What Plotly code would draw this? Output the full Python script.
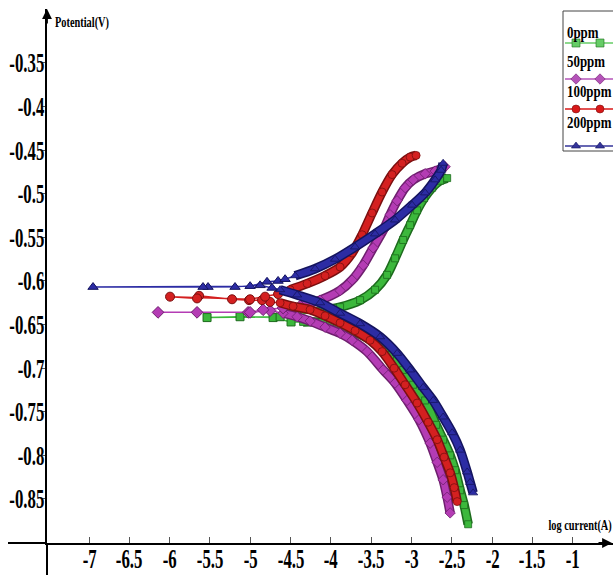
import json
import plotly.graph_objects as go

# Tafel polarisation curves: log current (A) vs potential (V) for each inhibitor dose
series_names = ["0ppm", "50ppm", "100ppm", "200ppm"]

# ---- 0 ppm ----
cath_0_logi = [-2.298, -2.347, -2.397, -2.459, -2.521, -2.608, -2.695, -2.831, -2.980,
               -3.104, -3.266, -3.452, -3.638, -3.824, -4.010, -4.196, -4.345]
cath_0_e = [-0.879, -0.857, -0.840, -0.817, -0.800, -0.782, -0.765, -0.737, -0.719,
            -0.702, -0.685, -0.671, -0.661, -0.654, -0.649, -0.647, -0.647]
ecorr_0_logi = [-4.494, -4.717, -5.127, -5.536, -4.630, -4.419]
ecorr_0_e = [-0.647, -0.642, -0.641, -0.642, -0.641, -0.639]
anod_0_logi = [-4.134, -3.886, -3.638, -3.452, -3.303, -3.204, -3.104, -3.017, -2.931,
               -2.844, -2.744, -2.645, -2.558]
anod_0_e = [-0.634, -0.630, -0.622, -0.610, -0.593, -0.574, -0.553, -0.536, -0.519,
            -0.505, -0.493, -0.485, -0.482]

# ---- 50 ppm ----
cath_50_logi = [-2.521, -2.558, -2.608, -2.682, -2.769, -2.906, -3.055, -3.204, -3.352,
                -3.551, -3.737, -3.886, -4.072, -4.258, -4.419, -4.593]
cath_50_e = [-0.866, -0.848, -0.828, -0.808, -0.786, -0.759, -0.737, -0.717, -0.702,
             -0.681, -0.668, -0.660, -0.653, -0.646, -0.641, -0.637]
ecorr_50_logi = [-4.754, -5.027, -5.660, -6.144, -5.002, -4.841, -4.593]
ecorr_50_e = [-0.634, -0.636, -0.636, -0.636, -0.636, -0.633, -0.631]
anod_50_logi = [-4.382, -4.134, -3.886, -3.737, -3.600, -3.476, -3.352, -3.266, -3.179,
                -3.079, -2.980, -2.831, -2.707, -2.583]
anod_50_e = [-0.628, -0.622, -0.611, -0.599, -0.582, -0.562, -0.542, -0.524, -0.508,
             -0.493, -0.484, -0.477, -0.474, -0.469]

# ---- 100 ppm ----
cath_100_logi = [-2.434, -2.471, -2.521, -2.596, -2.682, -2.794, -2.931, -3.079, -3.216,
                 -3.365, -3.514, -3.700, -3.886, -4.072, -4.258, -4.469, -4.630]
cath_100_e = [-0.853, -0.837, -0.820, -0.802, -0.782, -0.762, -0.740, -0.719, -0.700,
              -0.681, -0.668, -0.657, -0.648, -0.640, -0.633, -0.629, -0.625]
ecorr_100_logi = [-4.754, -4.854, -5.015, -5.226, -5.635, -5.660, -5.995, -5.002, -4.816, -4.655]
ecorr_100_e = [-0.624, -0.622, -0.622, -0.621, -0.617, -0.620, -0.618, -0.621, -0.618, -0.615]
anod_100_logi = [-4.506, -4.295, -4.072, -3.886, -3.737, -3.613, -3.489, -3.365, -3.241,
                 -3.117, -3.017, -2.943]
anod_100_e = [-0.610, -0.603, -0.594, -0.584, -0.568, -0.547, -0.522, -0.498, -0.478,
              -0.465, -0.458, -0.456]

# ---- 200 ppm ----
cath_200_logi = [-2.236, -2.273, -2.310, -2.397, -2.496, -2.608, -2.732, -2.856, -3.017,
                 -3.179, -3.390, -3.638, -3.886, -4.134, -4.419, -4.630]
cath_200_e = [-0.843, -0.831, -0.819, -0.794, -0.774, -0.756, -0.737, -0.722, -0.702,
              -0.683, -0.664, -0.649, -0.637, -0.625, -0.616, -0.610]
ecorr_200_logi = [-4.730, -4.878, -5.189, -5.524, -5.586, -6.950, -5.002, -4.792, -4.655, -4.568]
ecorr_200_e = [-0.608, -0.605, -0.607, -0.607, -0.607, -0.607, -0.606, -0.601, -0.600, -0.598]
anod_200_logi = [-4.444, -4.196, -3.948, -3.700, -3.452, -3.204, -2.993, -2.831, -2.707,
                 -2.633, -2.608]
anod_200_e = [-0.594, -0.586, -0.575, -0.561, -0.546, -0.530, -0.513, -0.499, -0.484,
              -0.473, -0.465]

x_tick_vals = [-7, -6.5, -6, -5.5, -5, -4.5, -4, -3.5, -3, -2.5, -2, -1.5, -1]
x_tick_text = ["-7", "-6.5", "-6", "-5.5", "-5", "-4.5", "-4", "-3.5", "-3", "-2.5", "-2", "-1.5", "-1"]
y_tick_vals = [-0.35, -0.4, -0.45, -0.5, -0.55, -0.6, -0.65, -0.7, -0.75, -0.8, -0.85]
y_tick_text = ["-0.35", "-0.4", "-0.45", "-0.5", "-0.55", "-0.6", "-0.65", "-0.7", "-0.75", "-0.8", "-0.85"]

curves = [
    (cath_0_logi, cath_0_e, ecorr_0_logi, ecorr_0_e, anod_0_logi, anod_0_e),
    (cath_50_logi, cath_50_e, ecorr_50_logi, ecorr_50_e, anod_50_logi, anod_50_e),
    (cath_100_logi, cath_100_e, ecorr_100_logi, ecorr_100_e, anod_100_logi, anod_100_e),
    (cath_200_logi, cath_200_e, ecorr_200_logi, ecorr_200_e, anod_200_logi, anod_200_e),
]

# styling
band_colors = ["#3cb83c", "#b43cb4", "#d42020", "#2c2ca4"]
edge_colors = ["#1d6b1d", "#6e1f6e", "#7a0f0f", "#14145e"]
key_colors = ["#66cc66", "#b453b8", "#d81818", "#34349a"]
symbols = ["square", "diamond", "circle", "triangle-up"]
sizes = [8, 9, 9, 9]

W, H = 613, 575
M_L, M_R, M_T, M_B = 47, 0, 9, 32
X_RANGE = [-7.521, -0.5012]
Y_RANGE = [-0.9005, -0.2881]
SERIF = "Liberation Serif"
TICK_SQUEEZE = 0.6
plot_w = W - M_L - M_R
plot_h = H - M_T - M_B


def px_to_paper_x(px):
    return (px - M_L) / plot_w


def py_to_paper_y(py):
    return (H - M_B - py) / plot_h


fig = go.Figure()

for i, (cx, cy, ex, ey, ax_, ay_) in enumerate(curves):
    # thin connector through the low-current points around Ecorr
    fig.add_trace(go.Scatter(
        x=[cx[-1]] + ex + [ax_[0]], y=[cy[-1]] + ey + [ay_[0]],
        mode="lines", line=dict(color=band_colors[i], width=1.5),
        hoverinfo="skip", showlegend=False))
    # dark rim under each branch, then the coloured band
    for bx, by in ((cx, cy), (ax_, ay_)):
        fig.add_trace(go.Scatter(
            x=bx, y=by, mode="lines",
            line=dict(color=edge_colors[i], width=9.5, shape="spline", smoothing=0.8),
            hoverinfo="skip", showlegend=False))
        fig.add_trace(go.Scatter(
            x=bx, y=by, mode="lines+markers",
            line=dict(color=band_colors[i], width=6.5, shape="spline", smoothing=0.8),
            marker=dict(symbol=symbols[i], size=sizes[i] - 1, color=band_colors[i],
                        line=dict(color=edge_colors[i], width=0.8)),
            name=series_names[i], showlegend=False))
    # sampled points near the corrosion potential
    fig.add_trace(go.Scatter(
        x=ex, y=ey, mode="markers",
        marker=dict(symbol=symbols[i], size=sizes[i], color=band_colors[i],
                    line=dict(color=edge_colors[i], width=1)),
        name=series_names[i], showlegend=False))

# key panel drawn on a pixel-unit overlay axis
key_line_y = [43, 79, 109, 146]
key_text_y = [32, 61, 91, 122]
for i, name in enumerate(series_names):
    fig.add_trace(go.Scatter(
        x=[565, 616], y=[key_line_y[i]] * 2, xaxis="x2", yaxis="y2",
        mode="lines", line=dict(color=key_colors[i], width=1.5),
        hoverinfo="skip", showlegend=False))
    fig.add_trace(go.Scatter(
        x=[576, 600], y=[key_line_y[i]] * 2, xaxis="x2", yaxis="y2",
        mode="markers",
        marker=dict(symbol=symbols[i], size=8, color=key_colors[i],
                    line=dict(color=edge_colors[i], width=0.6)),
        hoverinfo="skip", showlegend=False))

annotations = []
squeeze = []
tick_font = dict(family=SERIF, size=28, color="black", weight="bold")

# tick labels (paper-referenced on the off-plot side so they stay visible)
for v, t in zip(x_tick_vals, x_tick_text):
    annotations.append(dict(
        x=v, y=py_to_paper_y(558), xref="x", yref="paper", text=t, showarrow=False,
        xanchor="center", yanchor="middle", align="center", font=tick_font))
    squeeze.append(TICK_SQUEEZE)
for v, t in zip(y_tick_vals, y_tick_text):
    annotations.append(dict(
        x=px_to_paper_x(46), y=v, xref="paper", yref="y", text=t, showarrow=False,
        xanchor="right", yanchor="middle", align="right", font=tick_font))
    squeeze.append(TICK_SQUEEZE)

for i, name in enumerate(series_names):
    annotations.append(dict(
        x=565, y=key_text_y[i], xref="x2", yref="y2", text=name, showarrow=False,
        xanchor="left", yanchor="middle", align="left",
        font=dict(family=SERIF, size=17, color="black", weight="bold")))
    squeeze.append(0.76)
annotations.append(dict(
    x=53, y=23, xref="x2", yref="y2", text="Potential(V)", showarrow=False,
    xanchor="left", yanchor="middle", align="left",
    font=dict(family=SERIF, size=14, color="black", weight="bold")))
squeeze.append(0.74)
annotations.append(dict(
    x=px_to_paper_x(614), y=py_to_paper_y(526), xref="paper", yref="paper",
    text="log current(A)", showarrow=False,
    xanchor="right", yanchor="middle", align="right",
    font=dict(family=SERIF, size=14, color="black", weight="bold")))
squeeze.append(0.74)
# axis arrowheads
annotations.append(dict(x=0, y=1, xref="paper", yref="paper", ax=0, ay=16, text="",
                        showarrow=True, arrowhead=2, arrowsize=1.1, arrowwidth=1.8,
                        arrowcolor="black"))
squeeze.append(0)
annotations.append(dict(x=1, y=0, xref="paper", yref="paper", ax=-16, ay=0, text="",
                        showarrow=True, arrowhead=2, arrowsize=1.1, arrowwidth=1.8,
                        arrowcolor="black"))
squeeze.append(0)

shapes = [
    # axis lines continuing past the crossing point
    dict(type="line", xref="paper", yref="paper", x0=px_to_paper_x(8), x1=0, y0=0, y1=0,
         line=dict(color="black", width=2)),
    dict(type="line", xref="paper", yref="paper", x0=0, x1=0, y0=py_to_paper_y(H), y1=0,
         line=dict(color="black", width=2)),
    # key frame
    dict(type="rect", xref="x2", yref="y2", x0=563, x1=620, y0=11, y1=151,
         line=dict(color="#444444", width=1), fillcolor="rgba(0,0,0,0)"),
]

fig.update_layout(
    template="none",
    width=W, height=H,
    margin=dict(l=M_L, r=M_R, t=M_T, b=M_B, pad=0, autoexpand=False),
    paper_bgcolor="white", plot_bgcolor="white",
    showlegend=False,
    xaxis=dict(range=X_RANGE, tickvals=x_tick_vals, showticklabels=False,
               showgrid=False, zeroline=False, showline=True, linecolor="black", linewidth=2,
               ticks="inside", ticklen=6, tickwidth=1, tickcolor="#555555", automargin=False),
    yaxis=dict(range=Y_RANGE, tickvals=y_tick_vals, showticklabels=False,
               showgrid=False, zeroline=False, showline=True, linecolor="black", linewidth=2,
               ticks="outside", ticklen=4, tickwidth=1, tickcolor="#555555", automargin=False),
    xaxis2=dict(range=[M_L, W - M_R], overlaying="x", visible=False, fixedrange=True),
    yaxis2=dict(range=[H - M_B, M_T], overlaying="y", visible=False, fixedrange=True),
    annotations=annotations,
    shapes=shapes,
)

# condense the serif lettering horizontally about its anchor point
post_js = """
var gd = document.getElementById('{plot_id}');
function squeezeText(el, s) {
  var bb = el.getBBox();
  var a = el.getAttribute('text-anchor') || 'start';
  var o = a === 'end' ? bb.x + bb.width : (a === 'middle' ? bb.x + bb.width / 2 : bb.x);
  var t = el.getAttribute('transform') || '';
  el.setAttribute('transform', t + ' translate(' + o + ',0) scale(' + s + ',1) translate(' + (-o) + ',0)');
}
var sc = SCALES;
gd.querySelectorAll('g.annotation').forEach(function (g) {
  var k = parseInt(g.getAttribute('data-index'));
  var el = g.querySelector('text.annotation-text');
  if (el && sc[k]) { squeezeText(el, sc[k]); }
});
""".replace("SCALES", json.dumps(squeeze))

fig.write_html("out.html", post_script=post_js)
